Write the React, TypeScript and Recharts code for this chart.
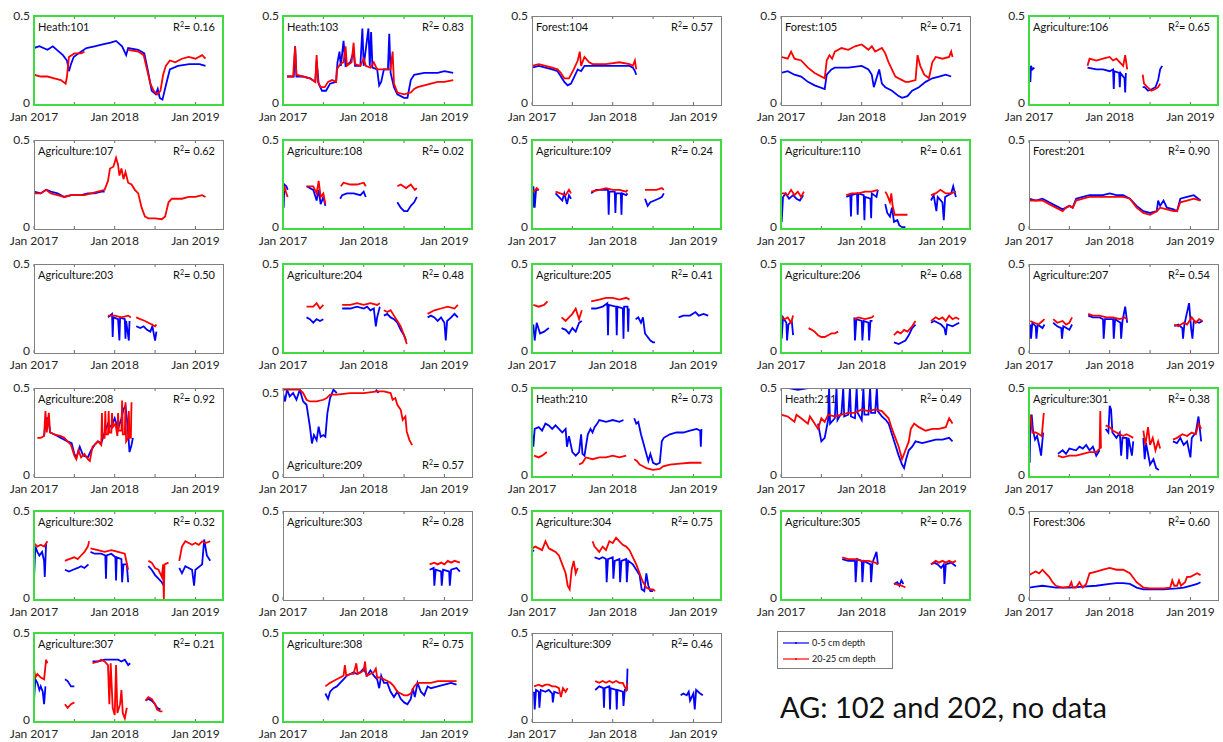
import React from "react";
import { LineChart, Line, XAxis, YAxis } from "recharts";

type P = [number, number] | null;

const BLUE = "#0000ff";
const RED = "#ff0000";
const FONT = "Lato, 'Liberation Sans', sans-serif";

// x = months since Jan 2017
const X_TICKS = [0, 6, 12, 18, 24];
const X_LABELS: Record<number, string> = { 0: "Jan 2017", 12: "Jan 2018", 24: "Jan 2019" };
const Y_TICKS = [0, 0.5];

const b101: P[] = [[0,.32],[.8,.33],[2,.31],[2.8,.33],[3.7,.3],[4.3,.28],[4.9,.25],[5.2,.19],[5.5,.23],[5.9,.27],[6.6,.29],[7.8,.32],[9,.33],[10.2,.34],[11.4,.35],[12.2,.36],[13.1,.33],[13.7,.28],[14,.32],[15.5,.31],[16.4,.29],[17,.18],[17.5,.08],[18.1,.06],[18.4,.09],[18.7,.04],[19.1,.03],[19.6,.11],[20.2,.2],[21.4,.22],[23.1,.23],[24.6,.23],[25.5,.22]];
const r101: P[] = [[0,.17],[1,.16],[2,.16],[3,.15],[4,.14],[4.7,.12],[4.9,.16],[5.2,.27],[6,.29],[7,.29],[7.5,.3],null,[14,.31],[15.5,.3],[16.3,.28],[16.8,.2],[17.3,.12],[17.8,.08],[18.3,.06],[18.8,.08],[19.2,.17],[19.6,.22],[20.2,.25],[21,.24],[22,.26],[23,.27],[24,.26],[25,.28],[25.5,.26]];

const b103: P[] = [[.6,.16],[1.6,.16],[1.8,.33],[2,.16],[3,.16],[4,.15],[4.8,.13],[5,.25],[5.3,.12],[5.8,.08],[6.4,.08],[7,.12],[7.9,.13],[8.1,.24],[8.4,.3],[8.6,.22],[9,.36],[9.3,.22],[10,.24],[10.5,.3],[10.7,.22],[11.5,.22],[11.8,.43],[12,.22],[12.7,.43],[12.9,.22],[13.1,.41],[13.3,.21],[14,.2],[14.3,.11],[14.6,.13],[15,.2],[15.6,.2],[15.8,.4],[16,.18],[16.5,.1],[17,.06],[18,.04],[18.5,.04],[19,.14],[19.5,.17],[21,.18],[23,.18],[24,.19],[25.3,.18]];
const r103: P[] = [[.6,.16],[1.5,.16],[1.8,.33],[2,.17],[3,.16],[4,.15],[4.8,.13],[5,.28],[5.2,.13],[5.6,.1],[6.2,.1],[6.7,.13],[7.3,.14],[7.9,.13],[8,.2],[8.5,.23],[9,.24],[9.3,.33],[9.5,.22],[10.2,.24],[10.5,.35],[10.7,.23],[11.5,.22],[12,.26],[12.3,.22],[13,.21],[13.5,.24],[14,.2],[15,.2],[16,.2],[16.3,.3],[16.5,.12],[17,.07],[18,.06],[19,.07],[19.5,.09],[20,.1],[21,.11],[22,.12],[23,.13],[24,.13],[25.3,.14]];

const b104: P[] = [[0,.21],[1,.22],[2,.21],[3,.2],[3.8,.19],[4.3,.16],[4.8,.13],[5.3,.11],[5.8,.12],[6.3,.16],[6.8,.2],[7.3,.19],[7.8,.22],[9,.22],[11,.22],[13,.22],[14.5,.22],[15,.21],[15.3,.19],[15.5,.17]];
const r104: P[] = [[0,.22],[1,.23],[2,.22],[3,.21],[3.8,.2],[4.3,.18],[4.8,.15],[5.5,.15],[6.2,.2],[6.8,.25],[7.1,.3],[7.3,.22],[7.8,.27],[8.5,.24],[9,.23],[11,.23],[13,.24],[14.5,.23],[15,.22],[15.3,.25],[15.5,.2]];

const b105: P[] = [[0,.18],[1,.19],[2,.17],[3,.16],[4,.13],[5,.11],[6.5,.09],[6.8,.17],[7.5,.2],[8,.21],[10,.21],[12,.22],[13,.2],[13.5,.17],[13.8,.1],[14.2,.15],[14.6,.2],[15,.12],[15.5,.1],[16.5,.08],[17.5,.05],[18,.04],[18.8,.05],[19.5,.08],[20.5,.1],[21.5,.13],[22.5,.15],[23.5,.16],[24.5,.17],[25.3,.16]];
const r105: P[] = [[0,.27],[1,.26],[1.5,.3],[2,.26],[3,.25],[4,.21],[5,.18],[6.5,.15],[6.8,.25],[7.2,.28],[7.6,.26],[8,.3],[9,.32],[10,.31],[11,.33],[12,.34],[13,.31],[13.5,.33],[14,.3],[15,.32],[15.5,.29],[16,.24],[17,.16],[18,.14],[18.5,.13],[19,.13],[20,.14],[20.3,.28],[20.7,.22],[21.3,.17],[22,.15],[22.5,.24],[23,.27],[24,.26],[25,.27],[25.3,.3],[25.5,.27]];

const b106: P[] = [[.1,.2],[.2,.13],[.3,.22],[.5,.2],[.8,.21],null,[8.7,.21],[10,.2],[11,.2],[12,.19],[12.5,.2],[12.6,.09],[12.7,.19],[13.4,.18],[13.5,.1],[13.6,.18],[14.2,.15],[14.3,.07],[14.4,.18],null,[16.9,.1],[17.2,.1],[17.7,.08],[18.3,.09],[18.8,.1],[19.2,.14],[19.5,.2],[19.8,.22]];
const r106: P[] = [[8.7,.22],[9,.26],[10,.25],[11,.26],[12,.27],[12.5,.25],[13,.26],[13.5,.24],[14,.22],[14.3,.28],[14.6,.2],null,[16.9,.17],[17.1,.12],[17.6,.1],[18.2,.08],[18.8,.09],[19.2,.1],[19.5,.12]];

const b107: P[] = [[0,.21],[1,.2],[1.8,.22],[2.5,.21],[3.5,.2],[4.5,.18],[5.5,.19],[7,.19],[8,.2],[9,.2],[10,.21],[10.5,.21]];
const r107: P[] = [[0,.2],[1,.2],[1.8,.22],[2.5,.2],[3.5,.19],[4.5,.18],[5.5,.19],[6.5,.19],[7.5,.19],[8.5,.2],[9.5,.21],[10.5,.22],[11,.27],[11.3,.34],[11.8,.35],[12.2,.4],[12.5,.36],[12.7,.3],[13,.34],[13.3,.28],[13.6,.32],[14,.26],[14.5,.25],[15,.22],[15.5,.2],[16,.12],[16.5,.07],[17,.06],[18,.06],[19,.055],[19.5,.07],[20,.15],[20.5,.17],[22,.17],[23,.18],[24,.18],[25,.19],[25.5,.18]];

const b108: P[] = [[0,.22],[.1,.12],[.2,.25],[.5,.24],[.7,.22],null,[3.5,.24],[4.5,.22],[5,.16],[5.3,.22],[5.6,.14],[6,.18],[6.3,.13],null,[8.5,.17],[8.8,.19],[9.5,.2],[10.5,.2],[11.5,.19],[12,.21],[12.3,.18],null,[17,.15],[17.5,.12],[18,.1],[18.5,.1],[19,.13],[19.5,.15],[19.9,.18]];
const r108: P[] = [[0,.2],[.2,.24],[.5,.2],[.7,.18],null,[3.5,.24],[4.5,.24],[5,.2],[5.3,.27],[5.6,.18],[6,.2],[6.3,.14],null,[8.6,.24],[9,.26],[10,.25],[11,.25],[12,.26],[12.3,.24],null,[17,.24],[17.5,.25],[18.3,.23],[19,.25],[19.6,.22],[19.9,.23]];

const b109: P[] = [[0,.2],[.1,.12],[.2,.24],[.4,.12],[.6,.22],[1,.22],null,[3.5,.2],[4,.18],[4.5,.16],[4.8,.2],[5.2,.14],[5.5,.19],[5.8,.17],null,[8.8,.2],[9.5,.22],[10.5,.22],[11.3,.22],[11.4,.08],[11.5,.21],[12.3,.21],[12.4,.09],[12.5,.2],[13.2,.2],[13.3,.08],[13.4,.2],[14,.19],[14.2,.2],null,[16.8,.17],[17.2,.13],[17.6,.15],[18.2,.16],[18.8,.17],[19.3,.18],[19.6,.2]];
const r109: P[] = [[0,.22],[.3,.21],[.7,.23],[1,.22],null,[3.5,.21],[4.2,.2],[5,.19],[5.5,.22],[5.8,.2],null,[8.8,.21],[10,.22],[11,.23],[12,.22],[13,.22],[14,.21],[14.2,.22],null,[16.8,.22],[17.5,.22],[18.5,.22],[19.3,.23],[19.6,.22]];

const b110: P[] = [[0,.1],[.1,.04],[.3,.18],[.7,.2],[1.2,.17],[1.8,.19],[2.3,.17],[2.8,.16],[3.3,.19],null,[9.7,.18],[10.3,.19],[10.4,.07],[10.5,.19],[11.3,.2],[11.4,.08],[11.5,.2],[12.3,.19],[12.4,.05],[12.5,.18],[13.3,.17],[13.4,.06],[13.5,.2],[14.2,.18],[14.4,.22],null,[15.5,.14],[15.8,.09],[16.2,.07],[16.5,.12],[16.8,.04],[17.3,.05],[17.6,.02],[18,.01],[18.5,.01],null,[22.3,.16],[22.7,.19],[23.1,.1],[23.3,.18],[24,.15],[24.2,.05],[24.4,.18],[25.3,.2],[25.6,.24],[26,.18]];
const r110: P[] = [[0,.2],[.5,.2],[1,.19],[1.5,.22],[2,.19],[2.5,.21],[3,.18],[3.4,.21],null,[9.7,.19],[10.5,.2],[11.5,.2],[12.5,.21],[13.5,.21],[14.4,.22],null,[15.5,.21],[15.8,.19],[16.2,.15],[16.4,.2],[16.6,.13],[16.9,.08],[18.8,.08],null,[22.3,.19],[23,.2],[23.7,.22],[24.5,.2],[25.3,.2],[26,.21]];

const b201: P[] = [[0,.17],[1,.16],[2,.17],[3,.15],[4,.13],[5,.11],[5.5,.12],[6,.13],[6.5,.12],[7,.17],[8,.18],[9,.19],[10,.19],[11,.19],[12,.2],[13,.19],[14,.19],[15,.17],[16,.13],[17,.1],[18,.09],[19,.1],[19.2,.16],[19.5,.13],[20,.16],[20.5,.12],[21.5,.11],[22,.1],[22.5,.17],[23.5,.18],[24.5,.19],[25.5,.16]];
const r201: P[] = [[0,.16],[1,.16],[2,.16],[3,.14],[4,.12],[5,.1],[5.5,.12],[6,.13],[6.5,.12],[7,.16],[8,.17],[9,.18],[10,.18],[11,.18],[12,.18],[13,.18],[14,.18],[15,.17],[16,.12],[17,.09],[18,.08],[19,.1],[19.5,.12],[20.5,.11],[21.5,.1],[22,.1],[22.5,.15],[23.5,.16],[24.5,.17],[25.5,.16]];

const b203: P[] = [[11,.2],[11.6,.22],[11.7,.09],[11.8,.2],[12.5,.19],[12.7,.07],[12.8,.2],[13.5,.19],[13.6,.08],[13.7,.18],[14.1,.07],[14.2,.18],null,[15.2,.15],[15.8,.14],[16.3,.15],[16.8,.13],[17.3,.12],[17.6,.15],[18,.07],[18.2,.12]];
const r203: P[] = [[11,.21],[12,.21],[13,.2],[14,.21],[14.4,.2],null,[15.2,.2],[15.8,.19],[16.5,.18],[17,.17],[17.5,.16],[18,.15],[18.2,.16]];

const b204: P[] = [[3.5,.2],[4,.19],[4.5,.17],[5,.19],[5.5,.18],[6,.19],null,[8.8,.25],[10,.25],[11,.26],[12,.25],[12.5,.26],[13,.24],[13.5,.25],[13.8,.15],[14,.2],[14.4,.26],null,[15,.21],[15.5,.22],[16,.2],[16.5,.19],[17,.17],[17.5,.13],[18,.1],[18.3,.07],null,[21.5,.2],[22,.21],[22.5,.2],[23,.18],[23.5,.2],[24,.17],[24.2,.07],[24.4,.18],[25,.2],[25.5,.22],[26,.2]];
const r204: P[] = [[3.5,.26],[4.5,.26],[5,.28],[5.5,.25],[6,.27],null,[8.8,.27],[10,.27],[11,.28],[12,.27],[13,.28],[14,.27],[14.4,.28],null,[15,.24],[15.5,.23],[16,.24],[16.5,.21],[17,.18],[17.5,.15],[18,.1],[18.4,.05],null,[21.5,.22],[22.5,.24],[23.5,.25],[24.5,.26],[25.5,.25],[26,.27]];

const b205: P[] = [[.2,.16],[.4,.07],[.7,.17],[1.2,.11],[1.8,.12],[2.5,.14],null,[4.4,.14],[5,.13],[5.5,.11],[6,.14],[6.5,.12],[7,.17],[7.4,.18],null,[8.8,.25],[9.5,.25],[10.5,.26],[11.2,.28],[11.3,.1],[11.4,.27],[12.5,.26],[12.6,.1],[12.7,.26],[13.5,.25],[13.6,.08],[13.7,.26],[14.2,.26],[14.3,.12],[14.4,.25],null,[15.4,.19],[15.8,.2],[16.2,.17],[16.5,.2],[16.8,.11],[17.2,.09],[17.6,.07],[18,.06],[18.3,.06],null,[21.8,.2],[22.5,.21],[23.5,.21],[24.3,.23],[24.8,.21],[25.5,.22],[26.2,.21]];
const r205: P[] = [[.2,.27],[1,.26],[1.8,.27],[2.3,.29],null,[4.4,.2],[5,.18],[5.5,.2],[6,.22],[6.5,.25],[7,.19],[7.4,.24],null,[8.8,.29],[10,.3],[11,.31],[12,.31],[13,.3],[14,.31],[14.5,.3]];

const b206: P[] = [[0,.18],[.1,.08],[.3,.2],[.8,.17],[.9,.07],[1.1,.16],[1.6,.18],[1.8,.1],null,[10.9,.2],[11,.07],[11.2,.19],[12,.18],[12.1,.07],[12.3,.18],[13,.17],[13.1,.07],[13.3,.18],[13.6,.18],null,[16.8,.06],[17.5,.05],[18,.06],[18.5,.07],[19,.1],[19.5,.14],[20,.16],null,[22.3,.17],[22.8,.18],[23.3,.17],[23.8,.16],[24.3,.14],[24.5,.1],[24.7,.16],[25.5,.15],[26,.16],[26.5,.17]];
const r206: P[] = [[0,.2],[.5,.19],[1,.2],[1.5,.17],[1.8,.21],null,[4.1,.14],[4.6,.13],[5,.12],[5.5,.1],[6,.09],[6.5,.09],[7,.1],[7.5,.11],[8,.11],[8.5,.12],null,[10.9,.19],[11.5,.2],[12.5,.19],[13.5,.2],[13.8,.21],null,[16.8,.1],[17.3,.12],[17.8,.11],[18.3,.13],[18.8,.12],[19.5,.15],[20,.18],null,[22.3,.18],[23,.2],[23.5,.19],[24,.2],[24.5,.18],[25,.21],[25.5,.19],[26,.2],[26.5,.19]];

const b207: P[] = [[.2,.16],[.3,.08],[.5,.17],[1,.15],[1.1,.08],[1.3,.16],[2,.14],[2.3,.16],null,[3.6,.17],[4.2,.15],[4.8,.14],[4.9,.08],[5.1,.15],[6,.13],[6.4,.16],null,[8.8,.21],[9.5,.2],[10.5,.2],[11,.19],[11.1,.08],[11.3,.19],[12.5,.19],[12.6,.08],[12.8,.19],[13.6,.17],[13.7,.08],[13.9,.18],[14.3,.26],[14.6,.17],null,[21.6,.15],[22.2,.16],[22.8,.14],[22.9,.08],[23.1,.16],[23.8,.28],[24.1,.14],[24.3,.08],[24.5,.18],[25.3,.17],[25.8,.18]];
const r207: P[] = [[.2,.18],[.8,.17],[1.4,.16],[2,.18],[2.3,.19],null,[3.6,.19],[4.2,.17],[5,.18],[5.5,.16],[6,.17],[6.4,.2],null,[8.8,.22],[9.5,.21],[10.5,.21],[11.5,.2],[12.5,.2],[13.5,.19],[14.2,.2],[14.6,.19],null,[21.6,.16],[22.2,.15],[23,.17],[23.5,.16],[24.2,.2],[24.8,.17],[25.3,.19],[25.8,.18]];

const b208: P[] = [[1.5,.23],[1.8,.33],[2.1,.33],[2.4,.25],[3,.24],[4,.22],[5,.2],[5.6,.19],[6,.13],[6.3,.11],[6.8,.17],[7.3,.12],[8,.11],[8.5,.15],[9,.18],[9.5,.2],[10,.19],[10.5,.25],[11,.3],[11.5,.28],[12,.33],[12.5,.27],[13,.33],[13.3,.38],[13.6,.4],[13.9,.3],[14.2,.14],[14.5,.18],[14.7,.22]];
const r208: P[] = [[.5,.22],[1,.22],[1.5,.23],[1.7,.37],[1.9,.25],[2.2,.36],[2.4,.25],[3,.24],[4,.23],[4.5,.22],[5,.2],[5.5,.18],[6,.12],[6.3,.1],[6.6,.15],[7,.11],[7.5,.13],[8,.1],[8.3,.09],[8.7,.17],[9,.18],[9.5,.2],[10,.18],[10.1,.36],[10.2,.22],[10.5,.22],[10.6,.37],[10.7,.24],[11,.24],[11.1,.37],[11.2,.25],[11.5,.25],[11.6,.36],[11.7,.28],[12.1,.3],[12.4,.23],[12.5,.36],[12.6,.26],[13,.26],[13.1,.43],[13.2,.24],[13.5,.24],[13.6,.42],[13.7,.2],[14,.22],[14.1,.37],[14.2,.22],[14.4,.22],[14.5,.42]];

const b209: P[] = [[0,.5],[.3,.45],[.6,.52],[1,.48],[1.5,.5],[2,.46],[2.5,.52],[3,.45],[3.5,.43],[4,.3],[4.3,.2],[4.6,.25],[5,.22],[5.3,.3],[5.6,.24],[6,.25],[6.3,.24],[6.6,.38],[7,.47],[7.5,.52],[8,.5],null,[13.8,.52],[14.2,.5]];
const r209: P[] = [[0,.52],[1,.52],[2,.52],[2.5,.52],[3,.5],[3.5,.46],[4,.45],[5,.45],[6,.46],[6.5,.47],[7,.49],[8,.49],[10,.5],[12,.5],[14,.51],[15,.51],[16,.5],[16.3,.46],[16.7,.47],[17,.43],[17.5,.4],[17.8,.34],[18.2,.36],[18.4,.27],[18.8,.22],[19.2,.19]];

const b210: P[] = [[0,.25],[.2,.17],[.4,.27],[1,.28],[1.5,.26],[2,.3],[2.5,.29],[3,.27],[3.5,.29],[4,.27],[4.5,.25],[5,.27],[5.2,.17],[5.5,.23],[6,.14],[6.5,.12],[7,.14],[7.3,.24],[7.5,.13],[7.8,.12],[8.3,.24],[8.7,.27],[9,.25],[9.3,.28],[9.7,.3],[10,.32],[11,.31],[12,.32],[13,.31],[13.6,.32],null,[15.2,.33],[15.5,.3],[15.8,.31],[16.2,.24],[16.5,.2],[17,.13],[17.3,.09],[17.6,.13],[18,.08],[18.5,.07],[19,.08],[19.3,.2],[19.6,.22],[20.5,.24],[21.5,.25],[22.5,.25],[23.5,.26],[24.5,.27],[25,.26],[25.1,.17],[25.2,.27]];
const r210: P[] = [[.3,.12],[1,.11],[1.5,.12],[2.2,.14],null,[7,.07],[7.5,.08],[8,.11],[9,.1],[10,.11],[11,.11],[12,.12],[13,.11],[14,.12],null,[15.2,.1],[15.6,.09],[16,.07],[16.5,.06],[17,.05],[18,.04],[19,.045],[19.5,.06],[20.5,.07],[22,.075],[23.5,.08],[25,.08],[25.2,.08]];

const b211: P[] = [[1.2,.5],[2.5,.49],[4,.5],null,[5.5,.3],[6,.2],[6.5,.22],[7,.32],[7.15,.5],[7.3,.3],[8,.33],[8.25,.5],[8.4,.32],[9,.36],[9.25,.5],[9.4,.34],[10,.35],[10.25,.5],[10.4,.34],[11,.33],[11.25,.5],[11.4,.36],[12,.32],[12.25,.5],[12.4,.35],[13,.35],[13.25,.5],[13.4,.36],[14,.36],[14.25,.5],[14.4,.37],[15,.34],[15.6,.32],[16,.3],[16.5,.24],[17,.18],[17.5,.12],[18,.07],[18.3,.05],[18.6,.1],[19,.15],[19.5,.17],[20,.2],[21,.19],[22,.2],[23,.21],[24,.21],[25,.22],[25.5,.2]];
const r211: P[] = [[0,.35],[1,.34],[2,.31],[2.3,.35],[3,.33],[4,.3],[4.3,.34],[5,.3],[5.5,.27],[6,.33],[6.5,.31],[7,.35],[8,.34],[9,.35],[10,.36],[11,.36],[12,.38],[13,.37],[14,.38],[15,.37],[16,.33],[16.5,.27],[17,.22],[17.5,.17],[18,.1],[18.5,.15],[19,.2],[19.3,.27],[19.8,.3],[20.5,.28],[21.5,.26],[22.5,.27],[23.5,.27],[24.5,.28],[25,.33],[25.5,.3]];

const b301: P[] = [[.1,.08],[.2,.3],[.4,.35],[.6,.26],[.9,.21],[1.2,.23],[1.5,.18],[1.8,.12],[2.1,.25],null,[4.3,.13],[5,.15],[5.5,.13],[6,.16],[7,.15],[7.5,.17],[8,.16],[8.5,.18],[9,.15],[9.5,.17],[10,.12],[10.5,.15],null,[11.4,.27],[11.8,.25],[12,.4],[12.2,.38],[12.4,.25],[13,.22],[13.5,.25],[13.7,.12],[13.9,.22],[14.5,.22],[14.6,.1],[14.8,.22],[15.3,.12],[15.5,.2],null,[17,.22],[17.2,.1],[17.4,.19],[18,.07],[18.5,.1],[18.9,.05],[19.3,.04],null,[21.4,.2],[22,.19],[22.5,.22],[23,.18],[23.5,.2],[24,.11],[24.2,.22],[24.8,.25],[25.2,.34],[25.6,.2]];
const r301: P[] = [[.2,.35],[.5,.25],[1,.25],[1.5,.24],[1.9,.23],[2.2,.36],null,[4.3,.12],[5,.11],[6,.12],[7,.12],[8,.13],[9,.14],[10,.14],[10.5,.16],[10.6,.37],[10.7,.16],null,[11.4,.29],[12,.28],[12.5,.26],[13,.25],[13.5,.24],[14,.23],[14.5,.24],[15,.23],[15.5,.22],null,[17,.26],[17.3,.18],[17.7,.28],[18,.18],[18.4,.22],[18.8,.15],[19.2,.2],[19.5,.16],null,[21.4,.21],[22,.22],[22.8,.24],[23.5,.23],[24.2,.25],[24.8,.24],[25.2,.3],[25.6,.27]];

const b302: P[] = [[0,.12],[.2,.3],[.5,.27],[.8,.25],[1.2,.27],[1.5,.22],[1.6,.13],[1.8,.32],null,[4.6,.17],[5.2,.16],[5.8,.17],[6.5,.18],[7,.19],[7.5,.18],[8.1,.2],null,[8.4,.27],[9,.26],[10,.26],[10.6,.25],[10.7,.12],[10.8,.25],[11.5,.26],[12.1,.24],[12.2,.11],[12.3,.24],[13,.23],[13.1,.1],[13.3,.2],[13.8,.2],[14,.1],null,[17,.19],[17.5,.17],[18,.14],[18.5,.12],[19,.1],[19.3,.08],null,[21.6,.18],[22,.15],[22.5,.19],[23,.18],[23.5,.17],[23.8,.08],[24,.17],[25,.2],[25.3,.34],[25.7,.25],[26.2,.22]];
const r302: P[] = [[0,.32],[.5,.3],[1,.31],[1.5,.3],[2,.33],null,[4.6,.22],[5.2,.23],[6,.24],[6.5,.23],[7,.25],[7.5,.27],[8,.3],[8.2,.33],null,[8.4,.29],[9.5,.28],[10.5,.27],[11.5,.28],[12.5,.27],[13.5,.26],[14,.17],null,[17,.22],[17.5,.21],[18,.18],[18.5,.17],[19,.13],[19.2,.2],[19.3,0],[19.4,.2],[20,.21],null,[21.6,.22],[22,.3],[22.5,.33],[23,.32],[23.5,.31],[24,.32],[24.5,.31],[25,.33],[25.5,.32],[26.2,.33]];

const b303: P[] = [[21.8,.17],[22.4,.18],[22.5,.08],[22.7,.17],[23.5,.16],[23.6,.08],[23.8,.17],[24.7,.16],[24.8,.08],[25,.17],[25.8,.18],[26.3,.16]];
const r303: P[] = [[21.8,.2],[22.5,.21],[23,.2],[23.5,.21],[24,.2],[24.5,.22],[25,.21],[25.5,.22],[26.3,.21]];

const b304: P[] = [[0,.27],[.3,.28],null,[9.3,.24],[10,.23],[10.5,.24],[11,.23],[11.1,.1],[11.3,.23],[12,.24],[12.1,.12],[12.3,.22],[13,.23],[13.1,.1],[13.3,.22],[14,.23],[14.1,.1],[14.3,.22],[15,.2],[15.5,.17],[16,.14],[16.3,.06],[16.7,.05],[17,.15],[17.3,.08],[17.6,.05],[18,.05]];
const r304: P[] = [[0,.29],[.5,.3],[1,.29],[1.5,.28],[2,.33],[2.5,.29],[3,.28],[3.5,.27],[4,.25],[4.5,.2],[5,.15],[5.3,.08],[5.6,.06],[5.9,.17],[6.2,.22],[6.5,.15],[6.8,.18],null,[9,.33],[9.3,.3],[10,.27],[10.5,.3],[11,.28],[11.5,.33],[12,.32],[12.5,.35],[13,.33],[13.5,.31],[14,.3],[14.5,.28],[15,.24],[15.5,.2],[16,.15],[16.5,.1],[17,.07],[17.5,.06],[18,.06],[18.3,.05]];

const b305: P[] = [[9.1,.23],[10,.22],[11,.22],[11.1,.1],[11.3,.23],[12,.22],[12.1,.1],[12.3,.22],[13.3,.2],[13.4,.1],[13.6,.21],[14.2,.27],[14.4,.2],null,[16.8,.09],[17.3,.1],[17.6,.08],[17.9,.11],[18.2,.09],null,[22.3,.2],[22.8,.21],[23.3,.2],[23.8,.18],[24.2,.2],[24.3,.09],[24.5,.2],[25.3,.21],[26,.19]];
const r305: P[] = [[9.1,.24],[10,.23],[11,.23],[12,.22],[13,.22],[14,.21],[14.4,.2],null,[16.8,.09],[17.5,.085],[18,.08],[18.5,.07],null,[22.3,.2],[23,.22],[23.5,.21],[24,.22],[24.5,.21],[25,.22],[25.5,.21],[26,.22]];

const b306: P[] = [[0,.07],[1,.075],[2,.08],[3,.075],[4,.07],[6,.07],[8,.075],[10,.08],[12,.09],[13,.095],[14,.095],[15,.09],[16,.07],[17,.06],[18,.06],[20,.06],[22,.065],[23,.07],[24,.08],[25,.09],[25.5,.1]];
const r306: P[] = [[0,.14],[.5,.15],[1,.16],[1.5,.15],[2,.17],[2.5,.15],[3,.13],[3.5,.1],[4,.08],[5,.07],[6,.075],[6.3,.1],[6.5,.07],[7,.07],[7.5,.1],[8,.07],[8.5,.09],[9,.15],[10,.16],[11,.17],[12,.18],[13,.17],[14,.17],[15,.15],[16,.1],[17,.07],[18,.065],[19,.065],[20,.065],[21,.07],[21.3,.11],[21.6,.08],[22,.08],[22.3,.11],[22.6,.08],[23.2,.1],[23.5,.13],[24,.13],[25,.15],[25.5,.14]];

const b307: P[] = [[0,.12],[.2,.24],[.5,.22],[.8,.18],[1,.2],[1.3,.17],[1.5,.1],[1.7,.2],null,[4.6,.24],[5,.23],[5.5,.2],[6,.2],null,[8.7,.34],[9.5,.34],[10.5,.35],[11.5,.35],[12.5,.35],[13,.34],[13.5,.35],[14,.32],[14.3,.33],null,[16.6,.12],[17,.13],[17.5,.12],[18,.1],[18.3,.08],[18.8,.07]];
const r307: P[] = [[0,.3],[.2,.25],[.5,.27],[1,.25],[1.5,.24],[1.8,.35],[2,.33],null,[4.6,.1],[5,.08],[5.5,.1],[6,.11],null,[8.7,.33],[9.5,.34],[10,.35],[10.5,.34],[11,.32],[11.2,.1],[11.4,.33],[11.7,.08],[12,.04],[12.2,.32],[12.4,.05],[12.8,.1],[13,.18],[13.2,.05],[13.5,.02],[13.8,.08],null,[16.6,.12],[17,.14],[17.5,.13],[18,.1],[18.3,.07],[18.8,.06],[19.1,.06]];

const b308: P[] = [[6.3,.16],[6.7,.13],[7,.17],[7.5,.19],[8,.2],[8.5,.22],[9,.24],[9.5,.26],[10,.27],[10.5,.28],[11,.27],[11.5,.28],[12,.3],[12.5,.26],[13,.29],[13.5,.26],[14,.24],[14.3,.19],[14.6,.26],[15,.22],[15.5,.22],[16,.17],[16.5,.14],[17,.17],[17.5,.13],[18,.11],[18.5,.1],[19,.13],[19.3,.19],[19.6,.14],[20,.22],[20.5,.17],[21,.15],[21.5,.2],[22,.19],[23,.2],[24,.21],[25,.22],[25.8,.21]];
const r308: P[] = [[6.3,.2],[7,.22],[7.5,.23],[8,.24],[8.5,.25],[9,.26],[9.2,.32],[9.4,.26],[10,.27],[10.5,.27],[10.9,.33],[11.1,.27],[11.6,.28],[12,.29],[12.2,.34],[12.4,.26],[13,.27],[13.5,.28],[13.8,.3],[14,.25],[14.5,.25],[15,.24],[15.5,.23],[16,.22],[16.5,.2],[17,.17],[17.5,.16],[18,.15],[18.5,.15],[19,.16],[19.5,.2],[20,.22],[21,.22],[22,.22],[23,.23],[24,.23],[25,.23],[25.8,.23]];

const b309: P[] = [[.3,.17],[.4,.07],[.6,.18],[1,.17],[1.1,.08],[1.3,.18],[2,.17],[2.5,.18],[3,.16],[3.1,.11],[3.3,.17],[4,.16],null,[9.4,.18],[10,.2],[10.6,.19],[10.7,.08],[10.8,.19],[11.5,.2],[11.6,.07],[11.7,.19],[12.5,.18],[12.6,.07],[12.7,.18],[13.5,.17],[13.6,.09],[13.8,.18],[14.1,.18],[14.2,.3],null,[22.1,.15],[22.5,.16],[23,.15],[23.3,.17],[23.5,.12],[24,.16],[24.2,.07],[24.4,.18],[25,.16],[25.4,.15]];
const r309: P[] = [[.3,.2],[1,.21],[1.5,.2],[2,.21],[2.5,.21],[3,.2],[3.5,.2],[4,.19],[4.3,.14],[4.6,.19],[5,.17],[5.3,.19],null,[9.4,.23],[10,.22],[10.5,.23],[11,.22],[11.5,.23],[12,.22],[12.5,.23],[13,.22],[13.5,.22],[14,.18],[14.2,.22]];

type PanelDef = { title: string; r2: string; b: P[]; r: P[]; green: boolean; yMax?: number; bottomLabels?: boolean };

const panels: PanelDef[] = [
  { title: "Heath:101", r2: "0.16", b: b101, r: r101, green: true },
  { title: "Heath:103", r2: "0.83", b: b103, r: r103, green: true },
  { title: "Forest:104", r2: "0.57", b: b104, r: r104, green: false },
  { title: "Forest:105", r2: "0.71", b: b105, r: r105, green: false },
  { title: "Agriculture:106", r2: "0.65", b: b106, r: r106, green: true },
  { title: "Agriculture:107", r2: "0.62", b: b107, r: r107, green: false },
  { title: "Agriculture:108", r2: "0.02", b: b108, r: r108, green: true },
  { title: "Agriculture:109", r2: "0.24", b: b109, r: r109, green: true },
  { title: "Agriculture:110", r2: "0.61", b: b110, r: r110, green: true },
  { title: "Forest:201", r2: "0.90", b: b201, r: r201, green: false },
  { title: "Agriculture:203", r2: "0.50", b: b203, r: r203, green: false },
  { title: "Agriculture:204", r2: "0.48", b: b204, r: r204, green: true },
  { title: "Agriculture:205", r2: "0.41", b: b205, r: r205, green: true },
  { title: "Agriculture:206", r2: "0.68", b: b206, r: r206, green: true },
  { title: "Agriculture:207", r2: "0.54", b: b207, r: r207, green: false },
  { title: "Agriculture:208", r2: "0.92", b: b208, r: r208, green: false },
  { title: "Agriculture:209", r2: "0.57", b: b209, r: r209, green: false, yMax: 0.53, bottomLabels: true },
  { title: "Heath:210", r2: "0.73", b: b210, r: r210, green: true },
  { title: "Heath:211", r2: "0.49", b: b211, r: r211, green: false },
  { title: "Agriculture:301", r2: "0.38", b: b301, r: r301, green: true },
  { title: "Agriculture:302", r2: "0.32", b: b302, r: r302, green: true },
  { title: "Agriculture:303", r2: "0.28", b: b303, r: r303, green: false },
  { title: "Agriculture:304", r2: "0.75", b: b304, r: r304, green: true },
  { title: "Agriculture:305", r2: "0.76", b: b305, r: r305, green: true },
  { title: "Forest:306", r2: "0.60", b: b306, r: r306, green: false },
  { title: "Agriculture:307", r2: "0.21", b: b307, r: r307, green: true },
  { title: "Agriculture:308", r2: "0.75", b: b308, r: r308, green: true },
  { title: "Agriculture:309", r2: "0.46", b: b309, r: r309, green: false },
];

// layout
const COL_X = [34, 283, 532, 781, 1029];
const ROW_Y = [16, 140, 264, 388, 511, 633];
const BW = 189;
const BH = 89;
const ML = 34;
const MR = 8;
const MT = 12;
const MB = 24;

const toData = (pts: P[]) => {
  const out: { x: number; y: number | null }[] = [];
  let last = 0;
  for (const p of pts) {
    if (p === null) out.push({ x: last + 0.01, y: null });
    else {
      out.push({ x: p[0], y: p[1] });
      last = p[0];
    }
  }
  return out;
};

const XTick = (props: any) => {
  const { x, y, payload } = props;
  const lab = X_LABELS[payload.value];
  return (
    <g>
      <line x1={x} x2={x} y1={y} y2={y - 3} stroke="#444" strokeWidth={0.8} />
      <line x1={x} x2={x} y1={y - BH} y2={y - BH + 3} stroke="#444" strokeWidth={0.8} />
      {lab ? (
        <text x={x} y={y + 16} textAnchor="middle" fontSize={12} fontFamily={FONT} fill="#262626">
          {lab}
        </text>
      ) : null}
    </g>
  );
};

const YTick = (props: any) => {
  const { x, y, payload } = props;
  const v = payload.value as number;
  return (
    <text x={x} y={y + (v === 0 ? 2 : 4)} textAnchor="end" fontSize={12} fontFamily={FONT} fill="#262626">
      {String(v)}
    </text>
  );
};

function Panel({ p, i }: { p: PanelDef; i: number }) {
  const col = i % 5;
  const row = Math.floor(i / 5);
  const left = COL_X[col];
  const top = ROW_Y[row];
  const yMax = p.yMax ?? 0.5;
  const bw = p.green ? 2.5 : 1;
  const labelTop = p.bottomLabels ? top + BH - 19 : top + 4;
  return (
    <>
      <div style={{ position: "absolute", left: left - ML, top: top - MT }}>
        <LineChart width={BW + ML + MR} height={BH + MT + MB} margin={{ top: MT, right: MR, left: 0, bottom: 0 }}>
          <XAxis
            xAxisId={0}
            type="number"
            dataKey="x"
            domain={[0, 28.1]}
            ticks={X_TICKS}
            interval={0}
            allowDataOverflow
            axisLine={false}
            tickLine={false}
            tickSize={0}
            tickMargin={0}
            height={MB}
            tick={<XTick />}
          />
          <YAxis
            yAxisId={0}
            type="number"
            domain={[0, yMax]}
            ticks={Y_TICKS}
            interval={0}
            allowDataOverflow
            axisLine={false}
            tickLine={false}
            tickSize={0}
            tickMargin={4}
            width={ML}
            tick={<YTick />}
          />
          <Line data={toData(p.b)} dataKey="y" stroke={BLUE} strokeWidth={1.8} dot={false} isAnimationActive={false} connectNulls={false} />
          <Line data={toData(p.r)} dataKey="y" stroke={RED} strokeWidth={1.8} dot={false} isAnimationActive={false} connectNulls={false} />
        </LineChart>
      </div>
      <div
        style={{
          position: "absolute",
          left: left - bw / 2,
          top: top - bw / 2,
          width: BW + bw,
          height: BH + bw,
          boxSizing: "border-box",
          border: `${bw}px solid ${p.green ? "#3edc3e" : "#808080"}`,
          pointerEvents: "none",
        }}
      />
      <div style={{ position: "absolute", left: left + 4, top: labelTop, fontSize: 11, fontFamily: FONT, color: "#111", whiteSpace: "nowrap", lineHeight: "14px" }}>
        {p.title}
      </div>
      <div style={{ position: "absolute", left: left + BW - 80, width: 72, top: labelTop, fontSize: 11, fontFamily: FONT, color: "#111", whiteSpace: "nowrap", textAlign: "right", lineHeight: "14px" }}>
        R<sup style={{ fontSize: 7, verticalAlign: "top", lineHeight: "8px" }}>2</sup>= {p.r2}
      </div>
    </>
  );
}

export default function App() {
  return (
    <div style={{ position: "absolute", left: 0, top: 0, width: 1223, height: 742, background: "#fff", overflow: "hidden" }}>
      {panels.map((p, i) => (
        <React.Fragment key={p.title}>
          <Panel p={p} i={i} />
        </React.Fragment>
      ))}
      <div
        style={{
          position: "absolute",
          left: 777,
          top: 631,
          width: 116,
          height: 38,
          boxSizing: "border-box",
          border: "1px solid #808080",
          background: "#fff",
          fontFamily: FONT,
          fontSize: 9,
          color: "#111",
        }}
      >
        {[
          { c: BLUE, t: "0-5 cm depth" },
          { c: RED, t: "20-25 cm depth" },
        ].map((e, k) => (
          <div key={k} style={{ position: "absolute", left: 4, top: 4 + k * 16, height: 13, display: "flex", alignItems: "center" }}>
            <svg width={28} height={8}>
              <line x1={1} x2={27} y1={4} y2={4} stroke={e.c} strokeWidth={1.2} />
              <circle cx={14} cy={4} r={1} fill={e.c} />
            </svg>
            <span style={{ marginLeft: 2 }}>{e.t}</span>
          </div>
        ))}
      </div>
      <div style={{ position: "absolute", left: 780, top: 689, fontSize: 29, fontFamily: FONT, color: "#111", whiteSpace: "nowrap", lineHeight: "36px" }}>
        AG: 102 and 202, no data
      </div>
    </div>
  );
}
